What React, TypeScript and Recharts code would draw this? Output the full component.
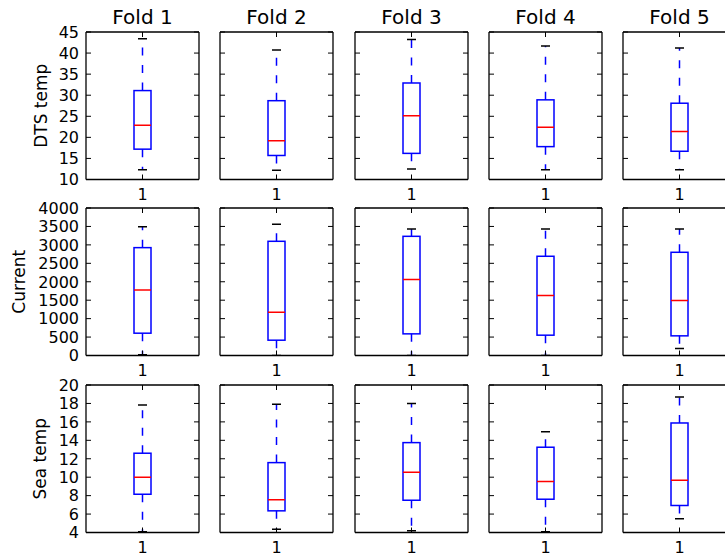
import { ComposedChart, Bar, Scatter, XAxis, YAxis } from 'recharts';

const folds = ['Fold 1', 'Fold 2', 'Fold 3', 'Fold 4', 'Fold 5'];
const xCategory = '1';

const dtsTicks = [10, 15, 20, 25, 30, 35, 40, 45];
const dtsMin = [12.3, 12.2, 12.5, 12.3, 12.3];
const dtsQ1 = [17.2, 15.7, 16.2, 17.8, 16.7];
const dtsMedian = [22.9, 19.2, 25.1, 22.4, 21.4];
const dtsQ3 = [31.1, 28.7, 32.9, 28.9, 28.1];
const dtsMax = [43.4, 40.7, 43.2, 41.7, 41.2];

const currentTicks = [0, 500, 1000, 1500, 2000, 2500, 3000, 3500, 4000];
const currentMin = [20, 0, 0, 0, 190];
const currentQ1 = [605, 415, 587, 551, 533];
const currentMedian = [1779, 1174, 2059, 1625, 1490];
const currentQ3 = [2925, 3097, 3232, 2691, 2799];
const currentMax = [3494, 3557, 3431, 3431, 3431];

const seaTicks = [4, 6, 8, 10, 12, 14, 16, 18, 20];
const seaMin = [4.07, 4.36, 4.18, 4.07, 5.48];
const seaQ1 = [8.15, 6.35, 7.5, 7.61, 6.93];
const seaMedian = [10.0, 7.54, 10.54, 9.53, 9.67];
const seaQ3 = [12.6, 11.58, 13.75, 13.25, 15.88];
const seaMax = [17.83, 17.9, 18.0, 14.94, 18.7];

const rows = [
  { label: 'DTS temp', ticks: dtsTicks, min: dtsMin, q1: dtsQ1, med: dtsMedian, q3: dtsQ3, max: dtsMax },
  { label: 'Current', ticks: currentTicks, min: currentMin, q1: currentQ1, med: currentMedian, q3: currentQ3, max: currentMax },
  { label: 'Sea temp', ticks: seaTicks, min: seaMin, q1: seaQ1, med: seaMedian, q3: seaQ3, max: seaMax },
];

// layout
const PLOT_W = 113;
const PLOT_H = 147.5;
const AXIS_W = 86;
const TOP_M = 32;
const X_AXIS_H = 30;
const RIGHT_M = 20;
const BOX_W = 17;
const CAP_W = 9;
const TICK_LEN = 5;
const Y_GAP = 7;
const X_GAP = 9;
const colLeft = [86, 220, 354.5, 488.5, 622.5];
const rowTop = [31.7, 208.3, 385];
const yLabelDx = [-2, -24.5, -3];

const BLUE = '#0000ff';
const RED = '#ff0000';
const LW = 1.5;
const frame = { stroke: '#000', strokeWidth: 1.3 };

// ticks point inwards, like matplotlib's classic style
const LeftTick = (p: any) => {
  const edge = p.x + Y_GAP;
  return (
    <g>
      <line x1={edge} x2={edge + TICK_LEN} y1={p.y} y2={p.y} stroke="#000" strokeWidth={1} />
      {p.showLabel && (
        <text x={p.x} y={p.y} dy="0.36em" textAnchor="end" fill="#000" fontSize={16}>
          {p.payload.value}
        </text>
      )}
    </g>
  );
};

const RightTick = (p: any) => (
  <line x1={p.x} x2={p.x - TICK_LEN} y1={p.y} y2={p.y} stroke="#000" strokeWidth={1} />
);

const BottomTick = (p: any) => {
  const edge = p.y - X_GAP;
  return (
    <g>
      <line x1={p.x} x2={p.x} y1={edge} y2={edge - TICK_LEN} stroke="#000" strokeWidth={1} />
      <text x={p.x} y={p.y} dy="0.73em" textAnchor="middle" fill="#000" fontSize={16}>
        {p.payload.value}
      </text>
    </g>
  );
};

const TopTick = (p: any) => (
  <line x1={p.x} x2={p.x} y1={p.y} y2={p.y + TICK_LEN} stroke="#000" strokeWidth={1} />
);

const BoxShape = (p: any) => (
  <rect x={p.x} y={p.y} width={p.width} height={p.height} fill="none" stroke={BLUE} strokeWidth={LW} />
);

const UpperWhisker = (p: any) => {
  const cx = p.x + p.width / 2;
  return (
    <g>
      <line x1={cx} x2={cx} y1={p.y + p.height} y2={p.y} stroke={BLUE} strokeWidth={LW} strokeDasharray="8 9.5" />
      <line x1={cx - CAP_W / 2} x2={cx + CAP_W / 2} y1={p.y} y2={p.y} stroke="#000" strokeWidth={LW} />
    </g>
  );
};

const LowerWhisker = (p: any) => {
  const cx = p.x + p.width / 2;
  const yb = p.y + p.height;
  return (
    <g>
      <line x1={cx} x2={cx} y1={p.y} y2={yb} stroke={BLUE} strokeWidth={LW} strokeDasharray="8 9.5" />
      <line x1={cx - CAP_W / 2} x2={cx + CAP_W / 2} y1={yb} y2={yb} stroke="#000" strokeWidth={LW} />
    </g>
  );
};

const MedianShape = (p: any) => (
  <line x1={p.cx - BOX_W / 2} x2={p.cx + BOX_W / 2} y1={p.cy} y2={p.cy} stroke={RED} strokeWidth={LW} />
);

function Panel({ r, c }: { r: number; c: number }) {
  const row = rows[r];
  const domain = [row.ticks[0], row.ticks[row.ticks.length - 1]];
  const data = [
    {
      name: xCategory,
      lower: [row.min[c], row.q1[c]],
      box: [row.q1[c], row.q3[c]],
      upper: [row.q3[c], row.max[c]],
      median: row.med[c],
    },
  ];
  return (
    <div style={{ position: 'absolute', left: colLeft[c] - AXIS_W, top: rowTop[r] - TOP_M }}>
      <ComposedChart
        width={AXIS_W + PLOT_W + RIGHT_M}
        height={TOP_M + PLOT_H + X_AXIS_H + 2}
        data={data}
        margin={{ top: TOP_M - 1, right: RIGHT_M - 1, bottom: 2, left: 0 }}
        barSize={BOX_W}
        barGap={-BOX_W}
      >
        <XAxis
          dataKey="name"
          type="category"
          height={X_AXIS_H}
          axisLine={frame}
          tickLine={false}
          tickSize={0}
          tickMargin={X_GAP}
          tick={<BottomTick />}
        />
        <XAxis
          xAxisId="top"
          orientation="top"
          dataKey="name"
          type="category"
          height={1}
          axisLine={frame}
          tickLine={false}
          tickSize={0}
          tickMargin={0}
          tick={<TopTick />}
          label={r === 0 ? { value: folds[c], position: 'top', offset: 7.5, fill: '#000', fontSize: 20 } : undefined}
        />
        <YAxis
          type="number"
          domain={domain}
          ticks={row.ticks}
          interval={0}
          allowDataOverflow
          width={AXIS_W}
          axisLine={frame}
          tickLine={false}
          tickSize={0}
          tickMargin={Y_GAP}
          tick={<LeftTick showLabel={c === 0} />}
          label={
            c === 0
              ? { value: row.label, angle: -90, position: 'center', dx: yLabelDx[r], fill: '#000', fontSize: 17 }
              : undefined
          }
        />
        <YAxis
          yAxisId="right"
          orientation="right"
          type="number"
          domain={domain}
          ticks={row.ticks}
          interval={0}
          allowDataOverflow
          width={1}
          axisLine={frame}
          tickLine={false}
          tickSize={0}
          tickMargin={0}
          tick={<RightTick />}
        />
        <Bar dataKey="lower" shape={LowerWhisker} isAnimationActive={false} />
        <Bar dataKey="box" shape={BoxShape} isAnimationActive={false} />
        <Bar dataKey="upper" shape={UpperWhisker} isAnimationActive={false} />
        <Scatter dataKey="median" shape={MedianShape} isAnimationActive={false} />
      </ComposedChart>
    </div>
  );
}

export default function App() {
  return (
    <div
      style={{
        position: 'absolute',
        left: 0,
        top: 0,
        width: 725,
        height: 556,
        overflow: 'hidden',
        background: '#fff',
        fontFamily: '"DejaVu Sans", sans-serif',
      }}
    >
      {rows.map((_, r) => folds.map((_f, c) => <Panel key={`${r}-${c}`} r={r} c={c} />))}
    </div>
  );
}
